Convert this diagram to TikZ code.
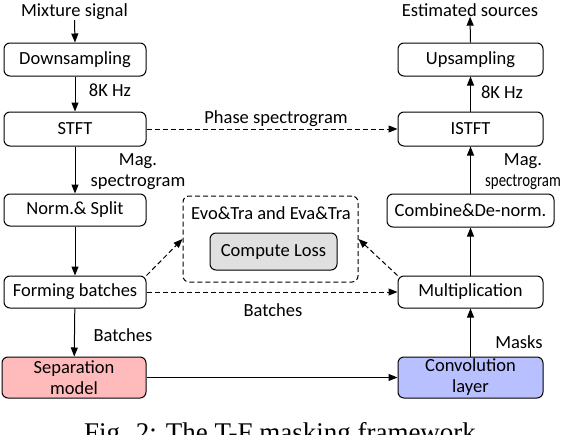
\documentclass[tikz,border=0pt]{standalone}
\usepackage{fontspec}
\setmainfont{Carlito}
\newfontfamily\capfont{Liberation Serif}
\usetikzlibrary{arrows.meta,calc}
\definecolor{seppink}{RGB}{255,187,187}
\definecolor{convblue}{RGB}{185,192,255}
\definecolor{lossgray}{RGB}{224,224,224}
\begin{document}
\begin{tikzpicture}[x=1pt,y=-1pt,
  font=\fontsize{18.5}{21}\selectfont,
  box/.style={draw, rounded corners=6pt, line width=1pt, inner sep=0pt, align=center},
  arr/.style={-{Triangle[length=9pt,width=7pt]}, line width=1pt},
  darr/.style={arr, dash pattern=on 5pt off 3pt},
  lbl/.style={inner sep=0pt, align=center}]
\useasboundingbox (0,0) rectangle (570,434);
\clip (0,0) rectangle (570,434);
% left column
\node[lbl] (mix) at (74.5,12) {Mixture signal};
\node[box, minimum width=142pt, minimum height=33pt] (down) at (75,59.5) {Downsampling};
\node[box, minimum width=142pt, minimum height=34pt] (stft) at (75,129) {STFT};
\node[box, minimum width=142pt, minimum height=32pt] (norm) at (75,210) {Norm.\& Split};
\node[box, minimum width=142pt, minimum height=32pt] (form) at (75,292) {Forming batches};
\node[box, fill=seppink, minimum width=144pt, minimum height=41pt] (sep) at (74,377.5) {Separation\\model};
% right column
\node[lbl] (est) at (470,10) {Estimated sources};
\node[box, minimum width=145pt, minimum height=33pt] (up) at (470.5,59.5) {Upsampling};
\node[box, minimum width=145pt, minimum height=34pt] (istft) at (470.5,129) {ISTFT};
\node[box, minimum width=167pt, minimum height=33pt] (comb) at (470.5,210.5) {Combine\&De-norm.};
\node[box, minimum width=145pt, minimum height=32pt] (mult) at (470.5,292) {Multiplication};
\node[box, fill=convblue, minimum width=145pt, minimum height=41pt] (conv) at (470.5,377.5) {Convolution\\layer};
% middle
\node[box, dash pattern=on 5pt off 3pt, minimum width=175pt, minimum height=86pt] (dbox) at (270.5,239) {};
\node[lbl] (evo) at (271,213) {Evo\&Tra and Eva\&Tra};
\node[box, fill=lossgray, minimum width=127pt, minimum height=37pt] (loss) at (273.5,251.5) {Compute Loss};
% labels
\node[lbl] (hz1) at (110,90) {8K Hz};
\node[lbl] (hz2) at (502,92) {8K Hz};
\node[lbl] (mag1) at (138,171.5) {Mag.\\spectrogram};
\node[lbl] (mag2) at (523,171.5) {Mag.\\\scalebox{0.8}[1]{spectrogram}};
\node[lbl] (phase) at (276,119) {Phase spectrogram};
\node[lbl] (bat1) at (273,310) {Batches};
\node[lbl] (bat2) at (123,335) {Batches};
\node[lbl] (mask) at (519,342) {Masks};
% connectors
\draw[arr] (mix.south) -- (down.north);
\draw[arr] (down) -- (stft);
\draw[arr] (stft) -- (norm);
\draw[arr] (norm) -- (form);
\draw[arr] (form) -- (sep);
\draw[arr] (sep) -- (conv);
\draw[arr] (conv) -- (mult);
\draw[arr] (mult) -- (comb);
\draw[arr] (comb) -- (istft);
\draw[arr] (istft) -- (up);
\draw[arr] (up.north) -- (est.south);
\draw[darr] (stft) -- (istft);
\draw[darr] (form) -- (mult);
\draw[darr] (form.north east) -- (dbox.west);
\draw[darr] (mult.north west) -- (dbox.east);
% caption (cut off at the bottom edge, as in the reference)
\node[anchor=base, inner sep=0pt, font=\capfont\fontsize{27}{30}\selectfont] (cap) at (280,441) {Fig. 2: The T-F masking framework};
\end{tikzpicture}
\end{document}
